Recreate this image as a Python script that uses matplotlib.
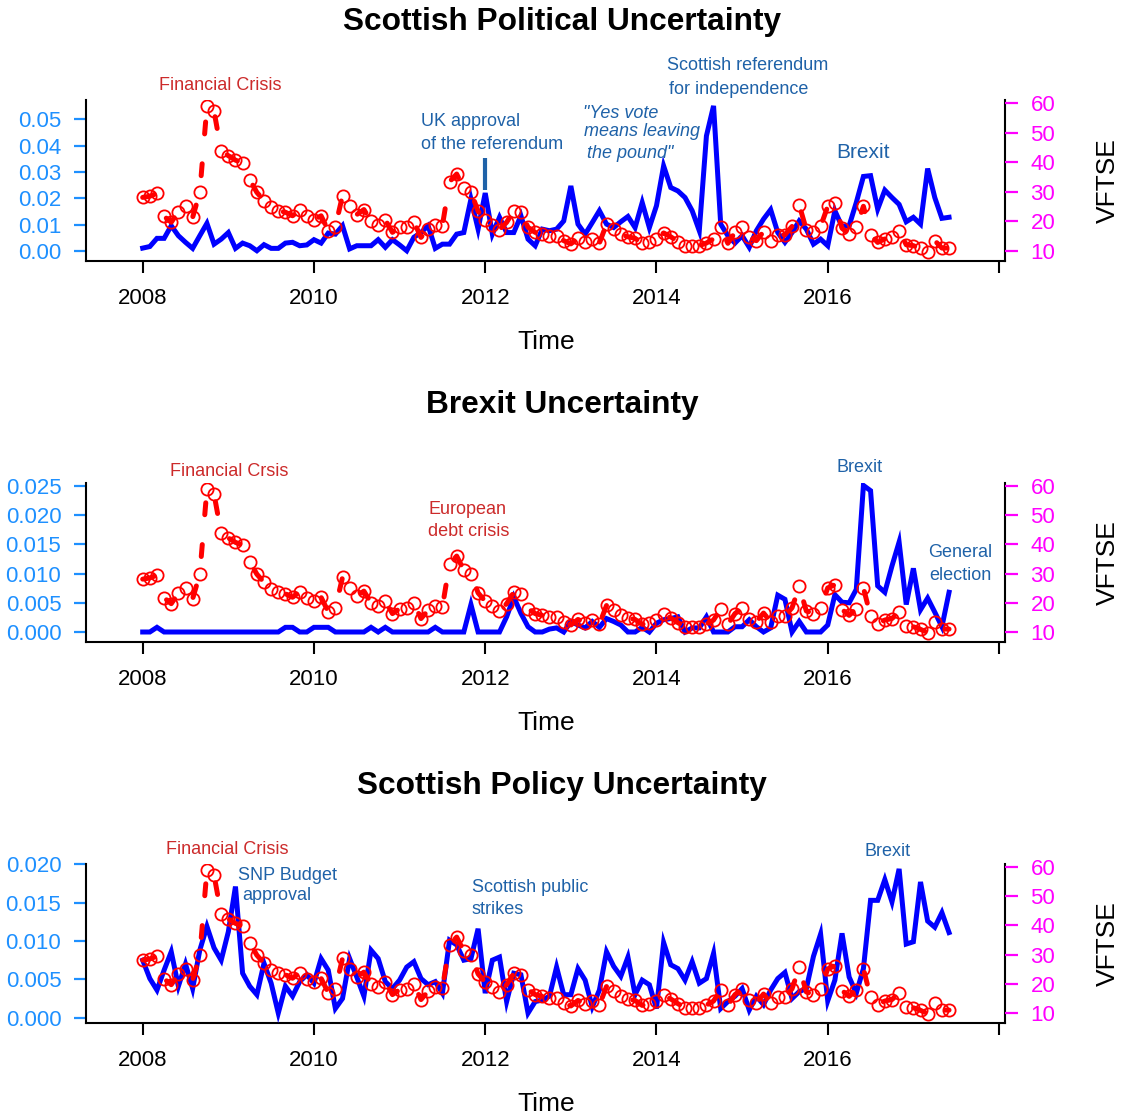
import matplotlib
matplotlib.use("Agg")
import matplotlib.pyplot as plt
import numpy as np

plt.rcParams['font.family'] = ['Liberation Sans', 'DejaVu Sans']
plt.rcParams['lines.scale_dashes'] = False

W, H, DPI = 1128, 1115, 100

# ---------------- data (monthly, Jan 2008 - Jun 2017) ----------------
vftse = [28.1, 28.5, 29.5, 21.7, 19.7, 23.3, 25.1, 21.4, 29.8, 58.9,
         57.2, 43.8, 42.2, 40.7, 39.7, 34.1, 29.8, 27.0, 24.8, 23.6,
         23.1, 21.9, 23.8, 21.7, 20.5, 21.9, 16.9, 18.2, 28.7, 25.1,
         22.3, 24.0, 20.0, 18.9, 20.5, 16.3, 18.0, 18.2, 19.9, 14.6,
         17.4, 18.8, 18.6, 33.4, 36.0, 31.2, 30.0, 23.4, 20.5, 18.8,
         17.2, 19.7, 23.6, 23.1, 18.0, 16.3, 15.7, 15.2, 15.2, 13.5,
         12.4, 14.3, 13.2, 14.1, 12.7, 19.1, 17.4, 15.7, 14.8, 14.3,
         12.6, 13.2, 14.1, 16.1, 14.8, 13.2, 11.8, 11.8, 11.8, 12.7,
         14.1, 18.0, 12.6, 16.3, 18.2, 14.6, 13.5, 16.5, 13.5, 15.5,
         15.5, 18.3, 25.6, 17.2, 16.3, 18.3, 25.1, 26.2, 17.7, 15.7,
         18.0, 25.1, 15.5, 12.9, 14.1, 14.6, 16.9, 12.1, 11.8, 10.9,
         9.8, 13.5, 11.0, 11.0]

political = [0.0011, 0.0017, 0.0048, 0.0048, 0.0096, 0.0058, 0.0033, 0.0010, 0.0058, 0.0105,
             0.0026, 0.0045, 0.0070, 0.0010, 0.0030, 0.0020, 0.0001, 0.0024, 0.0010, 0.0010,
             0.0030, 0.0033, 0.0020, 0.0023, 0.0043, 0.0030, 0.0068, 0.0064, 0.0096, 0.0008,
             0.0020, 0.0020, 0.0020, 0.0043, 0.0014, 0.0043, 0.0023, 0.0001, 0.0052, 0.0070,
             0.0096, 0.0010, 0.0026, 0.0026, 0.0064, 0.0070, 0.0197, 0.0083, 0.0220, 0.0064,
             0.0128, 0.0070, 0.0070, 0.0134, 0.0045, 0.0020, 0.0083, 0.0077, 0.0083, 0.0114,
             0.0247, 0.0102, 0.0064, 0.0108, 0.0153, 0.0102, 0.0089, 0.0111, 0.0131, 0.0089,
             0.0184, 0.0089, 0.0172, 0.0323, 0.0241, 0.0228, 0.0203, 0.0153, 0.0077, 0.0437,
             0.0551, 0.0102, 0.0058, 0.0030, 0.0058, 0.0014, 0.0077, 0.0121, 0.0157, 0.0070,
             0.0033, 0.0070, 0.0114, 0.0083, 0.0026, 0.0045, 0.0020, 0.0153, 0.0093, 0.0096,
             0.0184, 0.0283, 0.0286, 0.0159, 0.0231, 0.0203, 0.0177, 0.0111, 0.0128, 0.0102,
             0.0313, 0.0203, 0.0124, 0.0128]

brexit = [0.0, 0.0, 0.0008, 0.0, 0.0, 0.0, 0.0, 0.0, 0.0, 0.0,
          0.0, 0.0, 0.0, 0.0, 0.0, 0.0, 0.0, 0.0, 0.0, 0.0,
          0.0008, 0.0008, 0.0, 0.0, 0.0008, 0.0008, 0.0008, 0.0, 0.0, 0.0,
          0.0, 0.0, 0.0008, 0.0, 0.0008, 0.0, 0.0, 0.0, 0.0, 0.0,
          0.0, 0.0008, 0.0, 0.0, 0.0, 0.0, 0.0047, 0.0, 0.0, 0.0,
          0.0, 0.0026, 0.0060, 0.0032, 0.0009, 0.0, 0.0, 0.0005, 0.0007, 0.0,
          0.0018, 0.0012, 0.0007, 0.0018, 0.0008, 0.0023, 0.0018, 0.0012, 0.0, 0.0,
          0.0008, 0.0, 0.0015, 0.0021, 0.0023, 0.0026, 0.0, 0.0007, 0.0007, 0.0026,
          0.0, 0.0, 0.0, 0.0009, 0.0009, 0.0021, 0.0009, 0.0, 0.0007, 0.0063,
          0.0056, 0.0, 0.0018, 0.0, 0.0, 0.0, 0.0012, 0.0064, 0.0051, 0.0050,
          0.0073, 0.0251, 0.0242, 0.0079, 0.0068, 0.0113, 0.0154, 0.0047, 0.0109, 0.0038,
          0.0058, 0.0034, 0.0009, 0.0068]

policy = [0.0075, 0.0051, 0.0036, 0.0062, 0.0086, 0.0041, 0.0070, 0.0038, 0.0088, 0.0119,
          0.0091, 0.0075, 0.0112, 0.0171, 0.0058, 0.0041, 0.0030, 0.0071, 0.0045, 0.0006,
          0.0041, 0.0028, 0.0047, 0.0056, 0.0045, 0.0077, 0.0062, 0.0012, 0.0025, 0.0077,
          0.0053, 0.0028, 0.0088, 0.0077, 0.0047, 0.0038, 0.0049, 0.0066, 0.0073, 0.0051,
          0.0043, 0.0047, 0.0032, 0.0101, 0.0095, 0.0075, 0.0077, 0.0116, 0.0032, 0.0075,
          0.0079, 0.0021, 0.0058, 0.0056, 0.0006, 0.0021, 0.0023, 0.0028, 0.0066, 0.0030,
          0.0030, 0.0064, 0.0049, 0.0014, 0.0036, 0.0086, 0.0067, 0.0054, 0.0079, 0.0030,
          0.0049, 0.0043, 0.0012, 0.0098, 0.0069, 0.0064, 0.0049, 0.0073, 0.0045, 0.0051,
          0.0084, 0.0012, 0.0021, 0.0028, 0.0038, 0.0010, 0.0028, 0.0017, 0.0036, 0.0051,
          0.0059, 0.0025, 0.0034, 0.0038, 0.0080, 0.0109, 0.0022, 0.0049, 0.0110, 0.0053,
          0.0032, 0.0064, 0.0153, 0.0153, 0.0180, 0.0151, 0.0194, 0.0096, 0.0099, 0.0177,
          0.0126, 0.0118, 0.0137, 0.0111]

titles = ["Scottish Political Uncertainty", "Brexit Uncertainty", "Scottish Policy Uncertainty"]
series = [political, brexit, policy]
left_ticks = [[0.00, 0.01, 0.02, 0.03, 0.04, 0.05],
              [0.000, 0.005, 0.010, 0.015, 0.020, 0.025],
              [0.000, 0.005, 0.010, 0.015, 0.020]]
left_fmt = ["{:.2f}", "{:.3f}", "{:.3f}"]
right_ticks = [10, 20, 30, 40, 50, 60]
year_ticks = [2008, 2010, 2012, 2014, 2016, 2018]
year_labels = ["2008", "2010", "2012", "2014", "2016", ""]

start_year = 2008
time = start_year + np.arange(len(vftse)) / 12.0

# ---------------- layout helpers (pixels) ----------------
def fx(px):
    return px / W

def fy(py):
    return 1 - py / H

LEFT, RIGHT = 86, 1005
panel_top = [100, 483, 864]
panel_bot = [261, 642, 1023]
left_ref = [((0.0, 251.0), (0.05, 119.3)),
            ((0.0, 632.0), (0.025, 486.0)),
            ((0.0, 1017.7), (0.02, 864.3))]
x_ref = ((2008, 142.7), (2018, 999.0))

def lim_from(ref, p_lo, p_hi):
    (v1, p1), (v2, p2) = ref
    s = (v2 - v1) / (p2 - p1)
    return v1 + (p_lo - p1) * s, v1 + (p_hi - p1) * s

fig = plt.figure(figsize=(W / DPI, H / DPI), dpi=DPI)

BLUE_LABEL = "#1E90FF"
MAG = "#FF00FF"
ANN_BLUE = "#1F62A8"
ANN_RED = "#CC2A2A"

for i in range(3):
    top, bot = panel_top[i], panel_bot[i]
    ax = fig.add_axes([fx(LEFT), fy(bot), fx(RIGHT) - fx(LEFT), (bot - top) / H])
    ax.plot(time, series[i], color="#0000FF", lw=3.6, solid_joinstyle="miter", zorder=3)
    xlo, xhi = lim_from(x_ref, LEFT, RIGHT)
    ax.set_xlim(xlo, xhi)
    ylo, yhi = lim_from(left_ref[i], bot, top)
    ax.set_ylim(ylo, yhi)
    ax.set_yticks(left_ticks[i])
    ax.set_yticklabels([left_fmt[i].format(v) for v in left_ticks[i]])
    ax.set_xticks(year_ticks)
    ax.set_xticklabels(year_labels)
    ax.tick_params(axis="y", colors=BLUE_LABEL, length=8.8, width=1.6, pad=9, labelsize=16)
    ax.tick_params(axis="x", colors="black", length=8.8, width=1.5, pad=10.5, labelsize=16)
    for s in ["left", "bottom", "right"]:
        ax.spines[s].set_linewidth(1.5)
        ax.spines[s].set_color("black")
    ax.spines["top"].set_visible(False)
    ax.patch.set_alpha(0)

    ax2 = ax.twinx()
    ax2.plot(time, vftse, color="#FF0000", lw=3.6, dash_capstyle="round",
             linestyle=(0, (8.6, 21.6)), zorder=4)
    ax2.plot(time, vftse, linestyle="none", marker="o", ms=8.8, mfc="none",
             mec="#FF0000", mew=1.3, zorder=5)
    r_ref = ((10, bot - 10), (60, top + 3))
    rlo, rhi = lim_from(r_ref, bot, top)
    ax2.set_ylim(rlo, rhi)
    ax2.set_yticks(right_ticks)
    ax2.tick_params(axis="y", colors=MAG, length=9.3, width=1.6, pad=9, labelsize=16)
    for s in ["left", "bottom", "right", "top"]:
        ax2.spines[s].set_visible(False)

    fig.text(fx(562), fy(top - 78), titles[i], ha="center", va="center",
             fontsize=22.8, fontweight="bold")
    fig.text(fx(546), fy(bot + 81), "Time", ha="center", va="center", fontsize=19)
    fig.text(fx(1108), fy((top + bot) / 2), "VFTSE", ha="center", va="center",
             fontsize=19, rotation=90)

    if i == 0:
        ax.vlines(2012.0, 0.0232, 0.0353, color=ANN_BLUE, lw=3)

# ---------------- annotations ----------------
def note(px, py, s, color, size=13, ha="left", style="normal"):
    fig.text(fx(px), fy(py), s, color=color, fontsize=size, ha=ha, va="center",
             style=style)

note(220, 86, "Financial Crisis", ANN_RED, ha="center")
note(421, 122, "UK approval", ANN_BLUE)
note(421, 145, "of the referendum", ANN_BLUE)
note(667, 66, "Scottish referendum", ANN_BLUE)
note(669, 90, "for independence", ANN_BLUE)
note(583, 114, "\"Yes vote", ANN_BLUE, style="italic")
note(584, 131, "means leaving", ANN_BLUE, style="italic")
note(587, 153, "the pound\"", ANN_BLUE, style="italic")
note(836, 153, "Brexit", ANN_BLUE, size=15)

note(229, 471, "Financial Crsis", ANN_RED, ha="center")
note(468, 510, "European", ANN_RED, ha="center")
note(469, 532, "debt crisis", ANN_RED, ha="center")
note(836, 467, "Brexit", ANN_BLUE)
note(960, 553, "General", ANN_BLUE, ha="center")
note(960, 576, "election", ANN_BLUE, ha="center")

note(227, 850, "Financial Crisis", ANN_RED, ha="center")
note(238, 875, "SNP Budget", ANN_BLUE)
note(242, 895, "approval", ANN_BLUE)
note(472, 888, "Scottish public", ANN_BLUE)
note(472, 909, "strikes", ANN_BLUE)
note(864, 852, "Brexit", ANN_BLUE)

fig.savefig("out.png", dpi=DPI)
